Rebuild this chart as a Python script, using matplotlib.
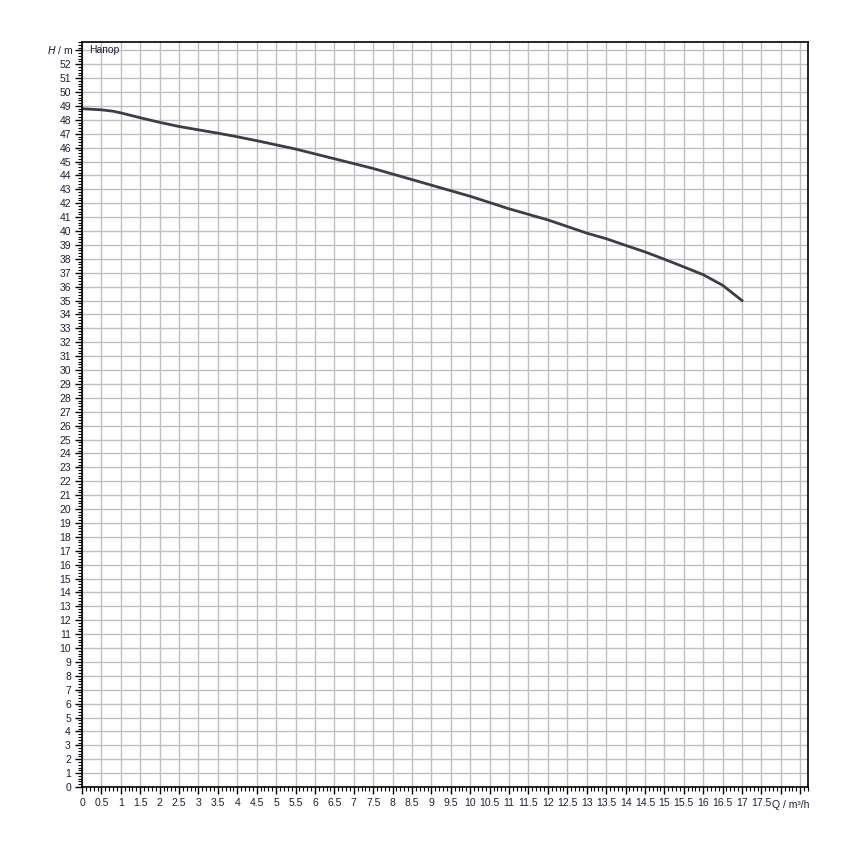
import numpy as np
import matplotlib
matplotlib.use("Agg")
import matplotlib.pyplot as plt
from matplotlib.ticker import MultipleLocator
from matplotlib.transforms import blended_transform_factory

plt.rcParams["font.family"] = ["Liberation Sans", "DejaVu Sans"]

# pump curve
q = [0, 0.5, 0.8, 1.0, 1.5, 2.0, 2.5, 3.0, 3.5, 4.0, 4.5, 5.0, 5.5, 6.0, 6.5, 7.0,
     7.5, 8.0, 9.0, 10.0, 11.0, 12.0, 13.0, 13.5, 14.0, 14.5, 15.0, 15.5, 16.0, 16.5, 17.0]
h = [48.8, 48.72, 48.62, 48.5, 48.15, 47.82, 47.52, 47.28, 47.04, 46.78, 46.5, 46.2, 45.9, 45.55, 45.2, 44.85,
     44.5, 44.1, 43.3, 42.5, 41.6, 40.8, 39.85, 39.45, 38.97, 38.5, 37.97, 37.42, 36.86, 36.1, 35.0]

x_ticks = list(np.arange(0, 18.0, 0.5))
x_labels = [("%g" % v) for v in x_ticks]
y_ticks = list(range(0, 53))
y_labels = [str(v) for v in y_ticks]

TXT = "#1e1e3a"

fig = plt.figure(figsize=(8.5, 8.5), dpi=100)
ax = fig.add_axes([82/850, 1-787/850, (808-82)/850, (787-42)/850])
ax.set_xlim(0, 18.7)
ax.set_ylim(0, 53.6)

ax.plot(q, h, color="#3a3e46", lw=2.0)

# unlabeled major ticks at 18, 18.5 and 53 (their labels give way to the axis names)
ax.set_xticks(x_ticks + [18.0, 18.5])
ax.set_xticklabels(x_labels + ["", ""])
ax.set_yticks(y_ticks + [53])
ax.set_yticklabels(y_labels + [""])
ax.xaxis.set_minor_locator(MultipleLocator(0.1))
ax.yaxis.set_minor_locator(MultipleLocator(0.2))
ax.grid(True, which="major", color="#c0c0c0", lw=1.0)
ax.set_axisbelow(True)
ax.tick_params(which="major", length=5, width=1, labelsize=7.5, colors="black",
               labelcolor=TXT, pad=3)
ax.tick_params(which="minor", length=3, width=0.8, colors="black")
for s in ax.spines.values():
    s.set_linewidth(1.2)
    s.set_color("black")

tx = blended_transform_factory(ax.transData, ax.transAxes)
ax.text(18.25, -0.024, "Q / m³/h", transform=tx, ha="center", va="center",
        fontsize=7.5, color=TXT)
ty = blended_transform_factory(ax.transAxes, ax.transData)
ax.text(-0.012, 53, "$\\mathit{H}$ / m", transform=ty, ha="right", va="center",
        fontsize=7.5, color=TXT)
ax.text(0.18, 53, "Напор", ha="left", va="center", fontsize=7.5, color=TXT)

fig.savefig("out.png", dpi=100)
